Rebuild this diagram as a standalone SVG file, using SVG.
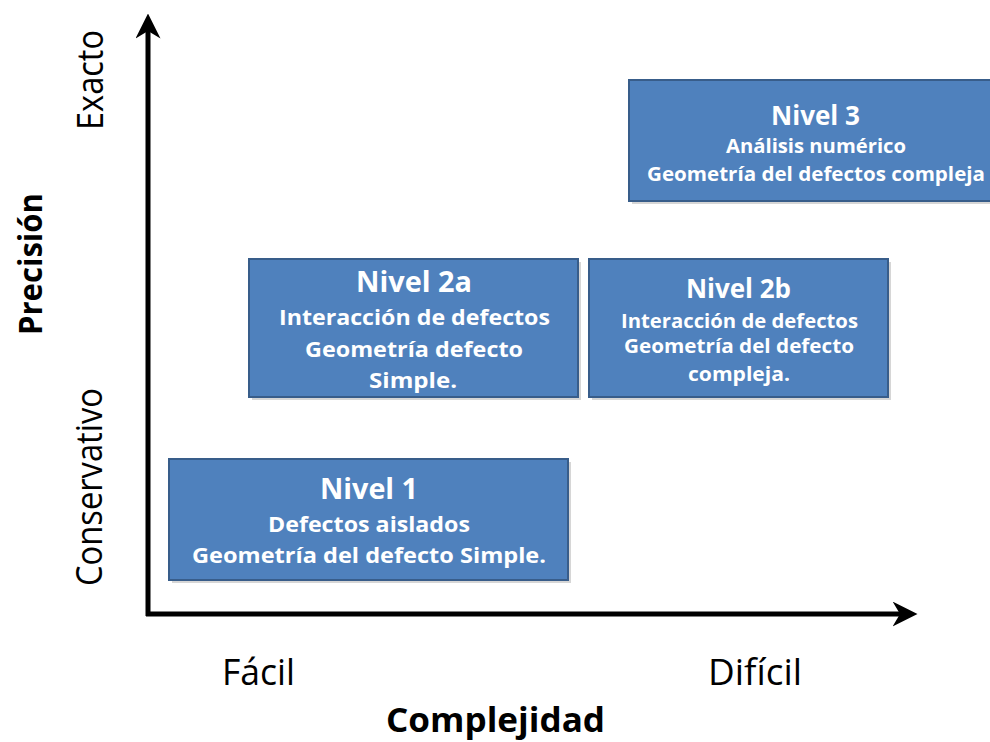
<svg xmlns="http://www.w3.org/2000/svg" width="990" height="742" viewBox="0 0 990 742">
<style>
.box{fill:#4F81BD;stroke:#385D8A;stroke-width:2}
.shadow{fill:#000;opacity:0.16}
.t{font-family:"Open Sans","Liberation Sans",sans-serif;font-weight:700;fill:#fff;text-anchor:middle}
.ax{font-family:"Open Sans","Liberation Sans",sans-serif;fill:#000;text-anchor:middle}
.axis{stroke:#000;stroke-width:5;fill:none}
</style>
<defs>
<marker id="arr" viewBox="0 0 10 10" refX="7" refY="5" markerWidth="5" markerHeight="5" orient="auto" markerUnits="strokeWidth">
<path d="M0,0 L10,5 L0,10 L3,5 Z" fill="#000"/>
</marker>
</defs>
<rect width="990" height="742" fill="#fff"/>
<g id="connectors">
<path class="axis" d="M148,616 L148,21" marker-end="url(#arr)"/>
<path class="axis" d="M146,614 L910,614" marker-end="url(#arr)"/>
</g>
<g id="nivel3">
<rect class="shadow" x="632" y="83" width="362" height="121"/>
<rect class="box" x="629" y="80" width="362" height="121"/>
<text class="t" x="815.5" y="125" font-size="26" textLength="89" lengthAdjust="spacingAndGlyphs">Nivel 3</text>
<text class="t" x="816" y="153" font-size="20" textLength="180" lengthAdjust="spacingAndGlyphs">Análisis numérico</text>
<text class="t" x="816" y="181" font-size="20" textLength="338" lengthAdjust="spacingAndGlyphs">Geometría del defectos compleja</text>
</g>
<g id="nivel2a">
<rect class="shadow" x="252" y="262" width="329" height="138"/>
<rect class="box" x="249" y="259" width="329" height="138"/>
<text class="t" x="414" y="292" font-size="28" textLength="116" lengthAdjust="spacingAndGlyphs">Nivel 2a</text>
<text class="t" x="414.5" y="325" font-size="22" textLength="271" lengthAdjust="spacingAndGlyphs">Interacción de defectos</text>
<text class="t" x="414" y="357" font-size="22" textLength="218" lengthAdjust="spacingAndGlyphs">Geometría defecto</text>
<text class="t" x="413" y="388" font-size="22" textLength="88" lengthAdjust="spacingAndGlyphs">Simple.</text>
</g>
<g id="nivel2b">
<rect class="shadow" x="592" y="262" width="299" height="138"/>
<rect class="box" x="589" y="259" width="299" height="138"/>
<text class="t" x="738.5" y="298" font-size="26" textLength="105" lengthAdjust="spacingAndGlyphs">Nivel 2b</text>
<text class="t" x="739.5" y="328" font-size="20" textLength="237" lengthAdjust="spacingAndGlyphs">Interacción de defectos</text>
<text class="t" x="739" y="353" font-size="20" textLength="230" lengthAdjust="spacingAndGlyphs">Geometría del defecto</text>
<text class="t" x="739" y="381" font-size="20" textLength="102" lengthAdjust="spacingAndGlyphs">compleja.</text>
</g>
<g id="nivel1">
<rect class="shadow" x="172" y="462" width="399" height="121"/>
<rect class="box" x="169" y="459" width="399" height="121"/>
<text class="t" x="369" y="499" font-size="28" textLength="98" lengthAdjust="spacingAndGlyphs">Nivel 1</text>
<text class="t" x="369" y="532" font-size="22" textLength="202" lengthAdjust="spacingAndGlyphs">Defectos aislados</text>
<text class="t" x="369" y="563" font-size="22" textLength="354" lengthAdjust="spacingAndGlyphs">Geometría del defecto Simple.</text>
</g>
<g id="labels">
<text class="ax" x="258.5" y="685" font-size="37" textLength="73" lengthAdjust="spacingAndGlyphs">Fácil</text>
<text class="ax" x="755" y="685" font-size="37" textLength="94" lengthAdjust="spacingAndGlyphs">Difícil</text>
<text class="ax" x="495.5" y="732" font-size="34" font-weight="700" textLength="219" lengthAdjust="spacingAndGlyphs">Complejidad</text>
<text class="ax" transform="translate(42,264) rotate(-90)" font-size="33" font-weight="700" textLength="142" lengthAdjust="spacingAndGlyphs">Precisión</text>
<text class="ax" transform="translate(103,80) rotate(-90)" font-size="37" textLength="100" lengthAdjust="spacingAndGlyphs">Exacto</text>
<text class="ax" transform="translate(102,487) rotate(-90)" font-size="37" textLength="198" lengthAdjust="spacingAndGlyphs">Conservativo</text>
</g>
</svg>
